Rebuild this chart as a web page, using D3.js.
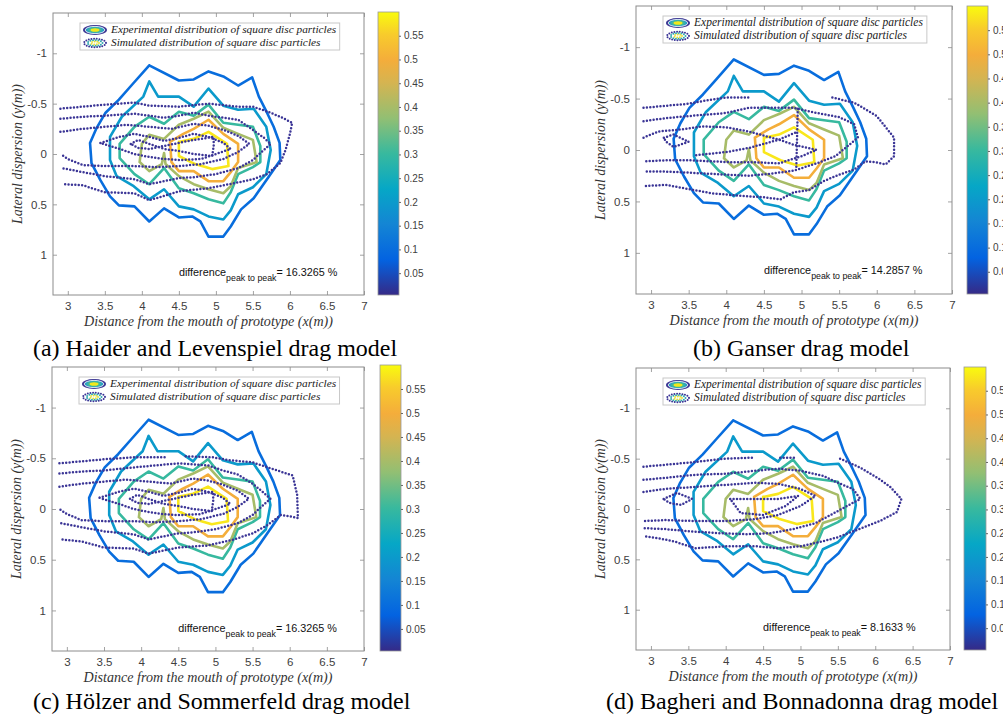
<!DOCTYPE html>
<html><head><meta charset="utf-8">
<script src="https://cdn.jsdelivr.net/npm/d3@7"></script>
<style>
html,body{margin:0;padding:0;background:#fff;}
svg{display:block;}
</style></head><body>
<svg id="fig" width="1003" height="716"></svg>
<script>
// ---------------- data ----------------
const xTicks = [3, 3.5, 4, 4.5, 5, 5.5, 6, 6.5, 7];
const yTicks = [-1, -0.5, 0, 0.5, 1];
const cbTicks = [0.05, 0.1, 0.15, 0.2, 0.25, 0.3, 0.35, 0.4, 0.45, 0.5, 0.55];
const xDomain = [2.8, 7];
const yDomain = [-1.4, 1.4];
const cbRange = [0.004, 0.6];

const captions = [
  "(a) Haider and Levenspiel drag model",
  "(b) Ganser drag model",
  "(c) H\u00f6lzer and Sommerfeld drag model",
  "(d) Bagheri and Bonnadonna drag model"
];
const differences = ["16.3265", "14.2857", "16.3265", "8.1633"];
const legendLabels = [
  "Experimental distribution of square disc particles",
  "Simulated distribution of square disc particles"
];
const xLabel = "Distance from the mouth of prototype (x(m))";
const yLabel = "Lateral dispersion (y(m))";

// experimental contour levels and lines (same in every panel)
const expLevels = [0.1, 0.2, 0.3, 0.4, 0.5, 0.58];
const exp010 = [[4.1,-0.88],[4.5,-0.73],[4.7,-0.74],[4.9,-0.82],[5.1,-0.77],[5.3,-0.68],[5.49,-0.76],[5.58,-0.57],[5.69,-0.41],[5.78,-0.27],[5.86,-0.11],[5.87,0.06],[5.69,0.25],[5.51,0.44],[5.34,0.55],[5.2,0.72],[5.1,0.82],[4.9,0.82],[4.79,0.67],[4.68,0.62],[4.5,0.63],[4.3,0.54],[4.1,0.67],[3.9,0.52],[3.69,0.51],[3.57,0.42],[3.44,0.26],[3.32,0.09],[3.3,-0.11],[3.39,-0.26],[3.51,-0.41],[3.69,-0.54],[3.87,-0.69],[4.1,-0.88]];
const exp020 = [[4.1,-0.72],[4.22,-0.57],[4.5,-0.57],[4.7,-0.47],[4.9,-0.65],[5.1,-0.48],[5.3,-0.44],[5.51,-0.45],[5.68,-0.27],[5.74,-0.04],[5.68,0.2],[5.5,0.33],[5.3,0.4],[5.2,0.56],[5.1,0.65],[4.9,0.62],[4.7,0.55],[4.5,0.52],[4.3,0.35],[4.1,0.45],[3.89,0.32],[3.66,0.22],[3.57,0.06],[3.57,-0.17],[3.73,-0.37],[4.02,-0.57],[4.1,-0.72]];
const exp030 = [[3.7,-0.1],[3.9,-0.27],[4.1,-0.37],[4.3,-0.3],[4.5,-0.42],[4.7,-0.38],[4.9,-0.49],[5.1,-0.31],[5.3,-0.29],[5.5,-0.27],[5.6,-0.08],[5.6,0.08],[5.5,0.13],[5.3,0.2],[5.2,0.38],[5.1,0.49],[4.9,0.45],[4.7,0.39],[4.5,0.34],[4.3,0.14],[4.1,0.3],[3.9,0.2],[3.7,0.04],[3.7,-0.1]];
const exp040 = [[3.97,0.08],[4.0,-0.1],[4.1,-0.19],[4.3,-0.15],[4.5,-0.29],[4.7,-0.35],[4.9,-0.42],[5.1,-0.26],[5.3,-0.2],[5.5,-0.14],[5.55,0.08],[5.3,0.14],[5.2,0.32],[5.1,0.39],[4.9,0.35],[4.7,0.3],[4.5,0.22],[4.32,0.1],[4.3,-0.01],[4.27,0.1],[4.1,0.17],[3.97,0.08]];
const exp050 = [[4.38,-0.12],[4.56,-0.2],[4.7,-0.25],[4.9,-0.34],[5.1,-0.2],[5.3,-0.1],[5.3,0.08],[5.2,0.18],[5.1,0.27],[4.9,0.27],[4.7,0.17],[4.5,0.17],[4.4,0.08],[4.38,-0.12]];
const exp058 = [[4.5,-0.12],[4.7,-0.15],[4.9,-0.22],[5.15,-0.1],[5.17,0.12],[4.95,0.15],[4.72,0.1],[4.5,0.02],[4.5,-0.12]];

// simulated (dotted) contour lines, one list per panel
const simA = [
  [[2.9,-0.45],[3.2,-0.47],[3.5,-0.49],[3.9,-0.51],[4.1,-0.48],[4.5,-0.47],[4.9,-0.5],[5.3,-0.47],[5.5,-0.47],[5.7,-0.42],[5.87,-0.37],[6.03,-0.31],[6.0,-0.2],[5.94,-0.04],[5.87,0.09],[5.69,0.2],[5.5,0.25],[5.25,0.29],[4.9,0.34],[4.5,0.37],[4.1,0.46],[3.9,0.39],[3.5,0.38],[3.2,0.31],[2.92,0.3]],
  [[2.9,-0.35],[3.2,-0.37],[3.5,-0.38],[3.9,-0.4],[4.1,-0.38],[4.3,-0.36],[4.5,-0.38],[4.7,-0.41],[4.9,-0.38],[5.1,-0.36],[5.3,-0.34],[5.5,-0.24],[5.65,-0.16],[5.74,-0.1],[5.6,-0.01],[5.5,0.06],[5.3,0.14],[5.0,0.2],[4.7,0.23],[4.5,0.24],[4.1,0.3],[3.9,0.25],[3.5,0.22],[3.2,0.18],[2.92,0.14]],
  [[2.9,-0.22],[3.2,-0.25],[3.5,-0.27],[3.8,-0.29],[4.1,-0.27],[4.4,-0.25],[4.7,-0.3],[4.9,-0.28],[5.1,-0.24],[5.3,-0.18],[5.45,-0.1],[5.3,-0.02],[5.1,0.05],[4.8,0.1],[4.5,0.12],[4.2,0.13],[3.9,0.12],[3.5,0.12],[3.2,0.11],[3.0,0.05],[2.9,0.0]],
  [[3.44,-0.11],[3.7,-0.17],[3.9,-0.2],[4.1,-0.17],[4.3,-0.13],[4.5,-0.16],[4.7,-0.2],[4.9,-0.17],[5.1,-0.11],[5.2,-0.05],[5.0,0.0],[4.8,0.05],[4.5,0.06],[4.3,0.05],[4.1,0.03],[3.9,0.0],[3.7,-0.05],[3.44,-0.11]],
  [[3.85,-0.1],[3.95,-0.14],[4.1,-0.1],[4.3,-0.05],[4.5,-0.03],[4.7,0.0],[4.95,0.02],[4.97,-0.08],[4.97,-0.17],[4.7,-0.14],[4.5,-0.11],[4.3,-0.08],[4.1,-0.05],[3.95,-0.06],[3.85,-0.1]]
];
const simB = [
  [[2.9,-0.41],[3.2,-0.43],[3.5,-0.45],[3.8,-0.49],[4.0,-0.51],[4.3,-0.51]],
  [[5.41,-0.51],[5.7,-0.46],[6.0,-0.33],[6.23,-0.12],[6.23,0.06],[6.12,0.14],[6.0,0.12],[5.85,0.11],[5.7,0.19],[5.5,0.24],[5.3,0.3],[5.1,0.39],[4.9,0.41],[4.72,0.48],[4.5,0.46],[4.3,0.45],[4.1,0.44],[3.8,0.42],[3.5,0.38],[3.2,0.34],[2.9,0.35]],
  [[2.9,-0.28],[3.2,-0.31],[3.5,-0.33],[4.0,-0.36],[4.3,-0.41],[4.6,-0.41],[4.9,-0.41],[5.2,-0.36],[5.5,-0.32],[5.7,-0.25],[5.75,-0.12],[5.6,-0.03],[5.45,0.06],[5.2,0.13],[4.9,0.2],[4.6,0.23],[4.3,0.25],[4.0,0.24],[3.5,0.22],[3.2,0.21],[2.9,0.21]],
  [[2.9,-0.12],[3.1,-0.18],[3.4,-0.2],[3.7,-0.23],[4.0,-0.22],[4.3,-0.18],[4.5,-0.14],[4.7,-0.1],[4.9,-0.05],[5.2,0.0],[5.0,0.06],[4.7,0.13],[4.4,0.12],[4.1,0.12],[3.8,0.11],[3.5,0.1],[3.2,0.1],[2.9,0.11]],
  [[3.17,-0.12],[3.3,-0.15],[3.5,-0.08],[3.3,-0.03],[3.2,-0.08],[3.17,-0.12]],
  [[4.95,-0.4],[4.94,-0.1],[4.93,0.19]],
  [[3.6,0.05],[4.0,0.02],[4.3,-0.02],[4.7,-0.1],[4.95,-0.18]]
];
const simC = [
  [[2.9,-0.45],[3.2,-0.47],[3.5,-0.49],[3.9,-0.51],[4.36,-0.51]],
  [[4.6,-0.52],[4.96,-0.51],[5.2,-0.48],[5.5,-0.46],[5.75,-0.4],[6.04,-0.33],[6.1,-0.14],[6.11,0.09],[5.99,0.07],[5.88,0.06],[5.7,0.16],[5.5,0.24],[5.25,0.3],[4.9,0.36],[4.5,0.38],[4.1,0.44],[3.9,0.39],[3.5,0.38],[3.2,0.32],[2.92,0.3]],
  [[2.9,-0.35],[3.2,-0.37],[3.5,-0.38],[3.9,-0.41],[4.2,-0.43],[4.5,-0.45],[4.9,-0.43],[5.1,-0.38],[5.3,-0.34],[5.5,-0.25],[5.65,-0.16],[5.74,-0.1],[5.6,-0.01],[5.5,0.06],[5.3,0.14],[5.0,0.2],[4.7,0.23],[4.5,0.24],[4.1,0.3],[3.9,0.25],[3.5,0.22],[3.2,0.18],[2.92,0.14]],
  [[2.9,-0.22],[3.2,-0.25],[3.5,-0.27],[3.8,-0.29],[4.1,-0.27],[4.4,-0.25],[4.7,-0.3],[4.9,-0.28],[5.1,-0.24],[5.3,-0.18],[5.45,-0.1],[5.3,-0.02],[5.1,0.05],[4.8,0.1],[4.5,0.12],[4.2,0.13],[3.9,0.12],[3.5,0.12],[3.2,0.11],[3.0,0.05],[2.9,0.0]],
  [[3.44,-0.11],[3.7,-0.17],[3.9,-0.2],[4.1,-0.17],[4.3,-0.13],[4.5,-0.16],[4.7,-0.2],[4.9,-0.17],[5.1,-0.11],[5.2,-0.05],[5.0,0.0],[4.8,0.05],[4.5,0.06],[4.3,0.05],[4.1,0.03],[3.9,0.0],[3.7,-0.05],[3.44,-0.11]],
  [[3.85,-0.1],[3.95,-0.14],[4.1,-0.1],[4.3,-0.05],[4.5,-0.03],[4.7,0.0],[4.95,0.02],[4.97,-0.08],[4.97,-0.17],[4.7,-0.14],[4.5,-0.11],[4.3,-0.08],[4.1,-0.05],[3.95,-0.06],[3.85,-0.1]]
];
const simD = [
  [[2.9,-0.42],[3.2,-0.44],[3.5,-0.46],[3.99,-0.5],[4.35,-0.51]],
  [[4.73,-0.51],[4.95,-0.51]],
  [[5.53,-0.5],[5.8,-0.41],[6.05,-0.3],[6.2,-0.22],[6.35,-0.1],[6.29,0.03],[6.06,0.12],[5.85,0.18],[5.71,0.22],[5.5,0.28],[5.3,0.32],[5.0,0.37],[4.7,0.39],[4.4,0.37],[4.0,0.37],[3.6,0.39],[3.3,0.32],[3.1,0.29],[2.9,0.27]],
  [[2.9,-0.29],[3.2,-0.31],[3.6,-0.34],[4.0,-0.35],[4.4,-0.38],[4.7,-0.4],[5.0,-0.38],[5.3,-0.33],[5.5,-0.26],[5.7,-0.2],[5.8,-0.1],[5.6,-0.02],[5.4,0.06],[5.2,0.14],[4.9,0.2],[4.6,0.24],[4.3,0.25],[3.9,0.24],[3.5,0.22],[3.2,0.2],[2.9,0.19]],
  [[2.9,-0.17],[3.2,-0.2],[3.6,-0.22],[4.0,-0.24],[4.4,-0.26],[4.7,-0.25],[5.0,-0.2],[5.2,-0.13],[5.0,-0.03],[4.7,0.06],[4.4,0.1],[4.0,0.12],[3.6,0.12],[3.2,0.11],[2.9,0.12]],
  [[3.17,-0.1],[3.35,-0.16],[3.55,-0.1],[3.4,-0.04],[3.25,-0.06],[3.17,-0.1]],
  [[4.06,-0.1],[4.4,-0.1],[4.7,-0.1],[4.97,-0.13],[4.8,-0.03],[4.5,0.06],[4.2,0.04],[4.06,-0.1]]
];

// ---------------- layout & style (not data) ----------------
const panels = [
  {l:53,  t:13,  r:364, b:295, cb:{l:378, r:399, t:12,  b:295}, cap:{x:33,  y:356}, sim:simA},
  {l:636, t:6,   r:952, b:294, cb:{l:967, r:988, t:6,   b:294}, cap:{x:693, y:356}, sim:simB},
  {l:52,  t:367, r:364, b:651, cb:{l:380, r:401, t:365, b:651}, cap:{x:33,  y:709}, sim:simC},
  {l:636, t:368, r:950, b:650, cb:{l:964, r:986, t:367, b:650}, cap:{x:606, y:709}, sim:simD}
];
const parulaT = [0, 0.125, 0.25, 0.375, 0.5, 0.625, 0.75, 0.83, 0.92, 1];
const parulaC = ["#352a87","#0363e1","#1485d4","#06a7c6","#38b99e","#92bf73","#d5b451","#f4ad3b","#f8cb2c","#f9fb0e"];
const simColor = "#3b3596";
const axisGray = "#8c8c8c";
const tickText = "#404040";

const svg = d3.select("#fig");
const defs = svg.append("defs");
const grad = defs.append("linearGradient").attr("id","parula")
  .attr("x1",0).attr("y1",1).attr("x2",0).attr("y2",0);
parulaT.forEach((t,i)=>grad.append("stop").attr("offset",t).attr("stop-color",parulaC[i]));
const cmap = d3.scaleLinear().domain(parulaT).range(parulaC).interpolate(d3.interpolateRgb);
const levelColor = v => cmap((v - cbRange[0])/(cbRange[1]-cbRange[0]));
const expLines = [exp010, exp020, exp030, exp040, exp050, exp058];

function fitWidth(sel, target){
  const w = sel.node().getComputedTextLength();
  const fs = parseFloat(sel.attr("font-size"));
  sel.attr("font-size", (fs*target/w).toFixed(2));
}
let capSize = null;

panels.forEach((P,pi)=>{
  const g = svg.append("g");
  const x = d3.scaleLinear().domain(xDomain).range([P.l, P.r]);
  const y = d3.scaleLinear().domain(yDomain).range([P.t, P.b]);
  const line = d3.line().x(d=>x(d[0])).y(d=>y(d[1]));

  defs.append("clipPath").attr("id","clip"+pi).append("rect")
    .attr("x",P.l).attr("y",P.t).attr("width",P.r-P.l).attr("height",P.b-P.t);

  g.append("rect").attr("x",P.l).attr("y",P.t).attr("width",P.r-P.l).attr("height",P.b-P.t)
    .attr("fill","#fff");

  const styleAxis = a => {
    a.select(".domain").remove();
    a.selectAll(".tick line").attr("stroke",axisGray).attr("stroke-width",0.8);
    a.selectAll(".tick text").attr("fill",tickText).attr("font-family","'Liberation Sans', Arial, sans-serif").attr("font-size",11.5);
  };
  g.append("g").attr("transform",`translate(0,${P.b})`)
    .call(d3.axisBottom(x).tickValues(xTicks).tickSize(-4).tickPadding(7).tickFormat(d=>String(d)))
    .call(styleAxis);
  g.append("g").attr("transform",`translate(0,${P.t})`)
    .call(d3.axisTop(x).tickValues(xTicks).tickSize(-4).tickFormat(""))
    .call(styleAxis);
  g.append("g").attr("transform",`translate(${P.l},0)`)
    .call(d3.axisLeft(y).tickValues(yTicks).tickSize(-4).tickPadding(6).tickFormat(d=>String(d)))
    .call(styleAxis);
  g.append("g").attr("transform",`translate(${P.r},0)`)
    .call(d3.axisRight(y).tickValues(yTicks).tickSize(-4).tickFormat(""))
    .call(styleAxis);

  const cg = g.append("g").attr("clip-path",`url(#clip${pi})`);
  expLines.forEach((pts,k)=>{
    cg.append("path").attr("d",line(pts)).attr("fill","none")
      .attr("stroke",levelColor(expLevels[k])).attr("stroke-width",2.6)
      .attr("stroke-linejoin","round").attr("stroke-linecap","round");
  });
  P.sim.forEach(pts=>{
    cg.append("path").attr("d",line(pts)).attr("fill","none")
      .attr("stroke",simColor).attr("stroke-width",2.5)
      .attr("stroke-dasharray","0 3.4").attr("stroke-linecap","round")
      .attr("stroke-linejoin","round");
  });

  g.append("rect").attr("x",P.l).attr("y",P.t).attr("width",P.r-P.l).attr("height",P.b-P.t)
    .attr("fill","none").attr("stroke",axisGray).attr("stroke-width",1);

  // legend
  const lx = P.l+27, ly = P.t+10, lw = (P.r-P.l)*0.835, lh = 27;
  const lg = g.append("g");
  lg.append("rect").attr("x",lx).attr("y",ly).attr("width",lw).attr("height",lh)
    .attr("fill","#fff").attr("stroke","#c8c8c8").attr("stroke-width",1);
  const ix = lx+15, iy1 = ly+7, iy2 = ly+20;
  [[12,5,"#3a3592"],[9.5,3.8,"#2c9fc4"],[7,2.8,"#3fb99a"],[4.5,1.8,"#f2e81c"]].forEach(e=>{
    lg.append("ellipse").attr("cx",ix).attr("cy",iy1).attr("rx",e[0]).attr("ry",e[1]).attr("fill",e[2]);
  });
  lg.append("ellipse").attr("cx",ix).attr("cy",iy1).attr("rx",9.8).attr("ry",3.6).attr("fill","none")
    .attr("stroke","#fff").attr("stroke-width",0.8);
  [[11,4.2,simColor],[7.5,2.8,"#32a9b0"],[4,1.5,"#e6e23a"]].forEach(e=>{
    lg.append("ellipse").attr("cx",ix).attr("cy",iy2).attr("rx",e[0]).attr("ry",e[1]).attr("fill","none")
      .attr("stroke",e[2]).attr("stroke-width",2).attr("stroke-dasharray","0 2.6").attr("stroke-linecap","round");
  });
  let legSize = null;
  legendLabels.forEach((t,k)=>{
    const tx = lg.append("text").attr("x",lx+31).attr("y",ly+10+k*13).text(t)
      .attr("font-family","'Liberation Serif','DejaVu Serif',serif").attr("font-style","italic")
      .attr("font-size",10).attr("fill","#222");
    if(k===0){ fitWidth(tx, 224*(lw/258)); legSize = tx.attr("font-size"); }
    else tx.attr("font-size", legSize);
  });

  // annotation
  const ann = g.append("text").attr("x",x(4.5)).attr("y",y(1.21))
    .attr("font-family","'Liberation Sans', Arial, sans-serif").attr("fill","#111").attr("font-size",10.8);
  ann.append("tspan").text("difference");
  ann.append("tspan").attr("font-size",8.8).attr("dy",5).text("peak to peak");
  ann.append("tspan").attr("dy",-5).text("= " + differences[pi] + " %");

  // axis labels
  const xl = g.append("text").attr("x",(P.l+P.r)/2).attr("y",P.b+31).attr("text-anchor","middle")
    .attr("font-family","'Liberation Serif','DejaVu Serif',serif").attr("font-style","italic")
    .attr("font-size",13).attr("fill","#333").text(xLabel);
  fitWidth(xl, 249);
  const yl = g.append("text").attr("transform",`translate(${P.l-31},${(P.t+P.b)/2}) rotate(-90)`)
    .attr("text-anchor","middle")
    .attr("font-family","'Liberation Serif','DejaVu Serif',serif").attr("font-style","italic")
    .attr("font-size",13).attr("fill","#333").text(yLabel);
  fitWidth(yl, 140);

  // colorbar
  const cbs = d3.scaleLinear().domain(cbRange).range([P.cb.b, P.cb.t]);
  g.append("rect").attr("x",P.cb.l).attr("y",P.cb.t).attr("width",P.cb.r-P.cb.l).attr("height",P.cb.b-P.cb.t)
    .attr("fill","url(#parula)").attr("stroke","#9a9a9a").attr("stroke-width",0.8);
  g.append("g").attr("transform",`translate(${P.cb.r},0)`)
    .call(d3.axisRight(cbs).tickValues(cbTicks).tickSize(2).tickPadding(3).tickFormat(d=>String(d)))
    .call(a=>{
      a.select(".domain").remove();
      a.selectAll(".tick line").attr("stroke","#666");
      a.selectAll(".tick text").attr("fill",tickText).attr("font-family","'Liberation Sans', Arial, sans-serif").attr("font-size",10);
    });

  // caption
  const cap = svg.append("text").attr("x",P.cap.x).attr("y",P.cap.y)
    .attr("font-family","'Liberation Serif','Times New Roman',serif")
    .attr("font-size",23).attr("fill","#000").text(captions[pi]);
  if(capSize === null){ fitWidth(cap, 364); capSize = cap.attr("font-size"); }
  else cap.attr("font-size", capSize);
});
</script>
</body></html>
